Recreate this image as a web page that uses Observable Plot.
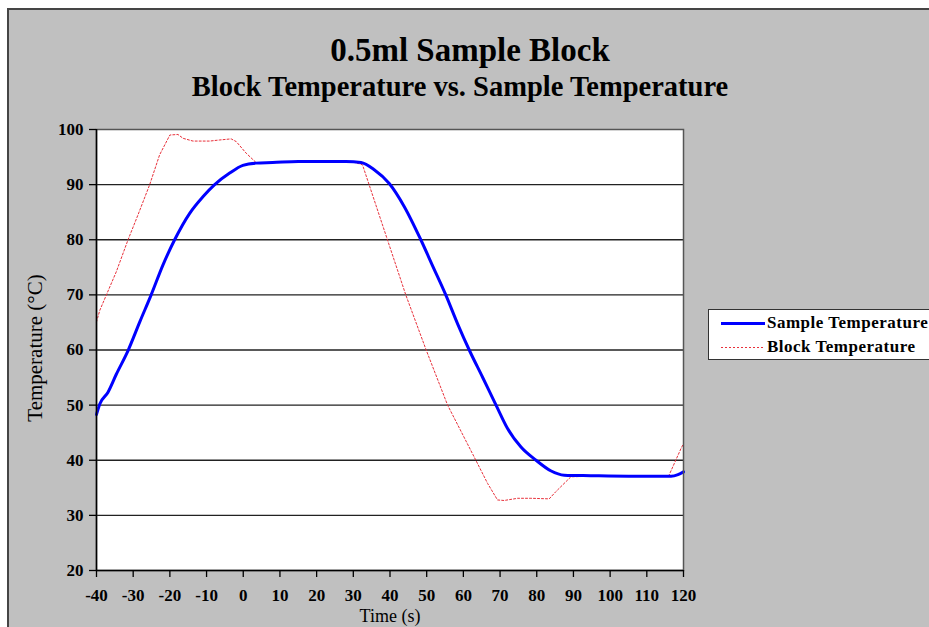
<!DOCTYPE html>
<html>
<head>
<meta charset="utf-8">
<script src="https://cdn.jsdelivr.net/npm/d3@7"></script>
<script src="https://cdn.jsdelivr.net/npm/@observablehq/plot@0.6"></script>
<style>
  html, body { margin: 0; padding: 0; background: #fff; }
  #wrap { position: relative; width: 929px; height: 627px; overflow: hidden; font-family: "Liberation Serif", "DejaVu Serif", serif; }
  #panel { position: absolute; left: 7px; top: 8px; width: 960px; height: 660px; background: #c0c0c0; border-left: 2px solid #454545; border-top: 2px solid #454545; }
  #chart { position: absolute; left: 0; top: 0; }
  .title { position: absolute; left: 0; width: 940px; text-align: center; font-weight: bold; color: #000; white-space: nowrap; }
  #t1 { top: 32px; font-size: 33px; left: 0; }
  #t2 { top: 71px; font-size: 28.5px; left: -10px; }
  #ylab { position: absolute; left: 35px; top: 348px; transform: translate(-50%, -50%) rotate(-90deg); font-size: 21px; white-space: nowrap; color: #000; }
  #xlab { position: absolute; left: 390px; top: 606px; transform: translateX(-50%); font-size: 18px; line-height: 20px; white-space: nowrap; color: #000; }
  #legend { position: absolute; left: 708px; top: 309px; width: 260px; height: 49px; background: #fff; border: 1px solid #333; }
  .lg { position: absolute; left: 58px; font-size: 17px; font-weight: bold; letter-spacing: 0.5px; white-space: nowrap; color: #000; }
  #legend svg { position: absolute; left: 0; top: 0; }
</style>
</head>
<body>
<div id="wrap">
  <div id="panel"></div>
  <div class="title" id="t1">0.5ml Sample Block</div>
  <div class="title" id="t2">Block Temperature vs. Sample Temperature</div>
  <div id="chart"></div>
  <div id="ylab">Temperature (°C)</div>
  <div id="xlab">Time (s)</div>
  <div id="legend">
    <svg width="60" height="49">
      <line x1="12" x2="56" y1="13.5" y2="13.5" stroke="#0000ff" stroke-width="3"></line>
      <line x1="12" x2="56" y1="37.5" y2="37.5" stroke="#e8303a" stroke-width="1" stroke-dasharray="2,2"></line>
    </svg>
    <div class="lg" style="top:3px">Sample Temperature</div>
    <div class="lg" style="top:27px">Block Temperature</div>
  </div>
</div>
<script>
const xTicks = [-40,-30,-20,-10,0,10,20,30,40,50,60,70,80,90,100,110,120];
const yTicks = [20,30,40,50,60,70,80,90,100];
const gridY = [30,40,50,60,70,80,90];

// Sample Temperature (time s, °C)
const sampleTime = [-40,-39.1,-36.9,-34.6,-31.4,-28.2,-25.1,-21.9,-18.7,-14.6,-11,-7.8,-3.7,-0.1,3.5,8,15,22,28,32.1,35.7,39.8,43.9,48.4,51.8,55.2,58.4,61.6,65.2,68.9,72,75.7,79.8,83.8,87.5,94.7,105,112,116.6,118.5,120];
const sampleTemp = [48.3,50.2,52.3,55.6,59.9,65.1,70,75.4,80,84.8,87.8,90,92.1,93.5,93.9,94,94.2,94.2,94.2,94,92.7,90.2,86,80,75,70,64.8,60,55.1,50,45.8,42.4,40,38.1,37.3,37.2,37.1,37.1,37.1,37.4,37.9];

// Block Temperature (time s, °C)
const blockTime = [-40,-39.1,-37.3,-34.6,-31.4,-28.7,-25.5,-22.8,-20,-17.8,-16.4,-13.7,-9.2,-6.4,-3.3,-1.9,0.8,3.5,10,20,30,32.5,35.7,39.3,44.3,49.8,55.7,63.4,66.6,69.3,71.1,74.8,78.4,83.4,85.2,89.3,95,105,116,119.3,120];
const blockTemp = [65.1,67.2,70,74.2,80,84.5,90,95.4,99,99.1,98.4,97.9,97.9,98.1,98.3,97.8,95.7,94,94,94.1,94.1,93.6,87.2,80,70,60.1,50,40,35.8,32.8,32.7,33.1,33.1,33,34.3,37,37.1,37.1,37.2,42.1,43];

const sample = sampleTime.map((t, i) => ({t, v: sampleTemp[i]}));
const block = blockTime.map((t, i) => ({t, v: blockTemp[i]}));

const chart = Plot.plot({
  width: 929,
  height: 627,
  marginLeft: 96,
  marginRight: 246,
  marginTop: 129,
  marginBottom: 57,
  style: { background: "transparent", fontFamily: "'Liberation Serif', serif", fontSize: "17px", fontWeight: "bold", color: "#000", overflow: "visible" },
  x: { domain: [-40, 120], label: null },
  y: { domain: [20, 100], label: null },
  marks: [
    Plot.frame({ fill: "#fff", stroke: null }),
    Plot.ruleY(gridY, { stroke: "#222", strokeWidth: 1.3 }),
    Plot.line(block, { x: "t", y: "v", stroke: "#e8303a", strokeWidth: 1, strokeDasharray: "2,2" }),
    Plot.line(sample, { x: "t", y: "v", stroke: "#0000ff", strokeWidth: 3, curve: "monotone-x" }),
    Plot.frame({ stroke: "#555", strokeWidth: 1.5 }),
    Plot.ruleX([-40], { stroke: "#000", strokeWidth: 1.5 }),
    Plot.ruleY([20], { stroke: "#000", strokeWidth: 1.5 }),
    Plot.axisX({ ticks: xTicks, tickSize: 7, tickPadding: 11, tickFormat: d => String(d), stroke: "#000", strokeWidth: 1.3 }),
    Plot.axisY({ ticks: yTicks, tickSize: 7, tickPadding: 6, tickFormat: d => String(d), stroke: "#000", strokeWidth: 1.3 })
  ]
});
document.getElementById("chart").appendChild(chart);
</script>
</body>
</html>
